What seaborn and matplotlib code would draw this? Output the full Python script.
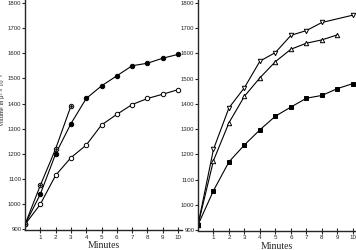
import pandas as pd
import matplotlib
matplotlib.use('Agg')
import matplotlib.pyplot as plt
import seaborn as sns

# left panel
left_x = [0, 1, 2, 3, 4, 5, 6, 7, 8, 9, 10]
left_filled = [920, 1040, 1200, 1320, 1420, 1470, 1510, 1550, 1560, 1580, 1595]
left_open = [920, 1000, 1115, 1185, 1235, 1315, 1357, 1396, 1420, 1437, 1455]
left_dot_x = [0, 1, 2, 3]
left_dot = [920, 1075, 1220, 1390]

# right panel
down_x = [0, 1, 2, 3, 4, 5, 6, 7, 8, 10]
down_tri = [920, 1220, 1384, 1464, 1569, 1603, 1671, 1690, 1722, 1751]
up_x = [0, 1, 2, 3, 4, 5, 6, 7, 8, 9]
up_tri = [920, 1175, 1325, 1430, 1503, 1567, 1616, 1640, 1653, 1673]
sq_x = [0, 1, 2, 3, 4, 5, 6, 7, 8, 9, 10]
squares = [920, 1056, 1170, 1237, 1297, 1351, 1387, 1422, 1433, 1460, 1480]

y_ticks = [900, 1000, 1100, 1200, 1300, 1400, 1500, 1600, 1700, 1800]
x_ticks = [1, 2, 3, 4, 5, 6, 7, 8, 9, 10]

sns.set_style('ticks')
plt.rcParams['font.family'] = ['Liberation Sans', 'DejaVu Sans']

fig = plt.figure(figsize=(3.56, 2.5), dpi=100)
ax1 = fig.add_axes([25 / 356, 20 / 250, 157 / 356, 230 / 250])
ax2 = fig.add_axes([198 / 356, 19.5 / 250, 158 / 356, 230.5 / 250])

line_kw = dict(color='black', linewidth=0.8, markersize=3.2, markeredgewidth=0.7)

def draw(ax, xs, ys, marker, filled):
    df = pd.DataFrame({'Minutes': xs, 'Volume': ys})
    sns.lineplot(data=df, x='Minutes', y='Volume', ax=ax, marker=marker,
                 markerfacecolor='black' if filled else 'white',
                 markeredgecolor='black', **line_kw)

draw(ax1, left_x, left_open, 'o', False)
draw(ax1, left_x, left_filled, 'o', True)
draw(ax1, left_dot_x, left_dot, 'o', False)
ax1.scatter(left_dot_x, left_dot, s=0.8, color='black', zorder=5)

draw(ax2, down_x, down_tri, 'v', False)
draw(ax2, up_x, up_tri, '^', False)
draw(ax2, sq_x, squares, 's', True)

for ax, xmax in ((ax1, 10.26), (ax2, 10.2)):
    ax.set_xlim(0, xmax)
    ax.set_ylim(898, 1811)
    ax.set_xticks(x_ticks)
    ax.set_yticks(y_ticks)
    ax.set_facecolor('none')
    sns.despine(ax=ax)
    ax.spines['left'].set_linewidth(1.0)
    ax.spines['bottom'].set_linewidth(1.0)
    ax.tick_params(axis='x', direction='inout', length=5, width=0.8, labelsize=4.5, pad=1)
    ax.tick_params(axis='y', direction='out', length=2, width=0.8, labelsize=4.3, pad=0.6)
    ax.set_ylabel('')
    ax.set_xlabel('Minutes', family=['Liberation Serif'], fontsize=7, labelpad=1)

fig.text(3 / 356, 0.6, 'Volume in μ³ × 10⁻⁶', rotation=90, ha='center', va='center',
         fontsize=4.6, family=['Liberation Serif', 'DejaVu Serif'])

fig.savefig('out.png', dpi=100)
